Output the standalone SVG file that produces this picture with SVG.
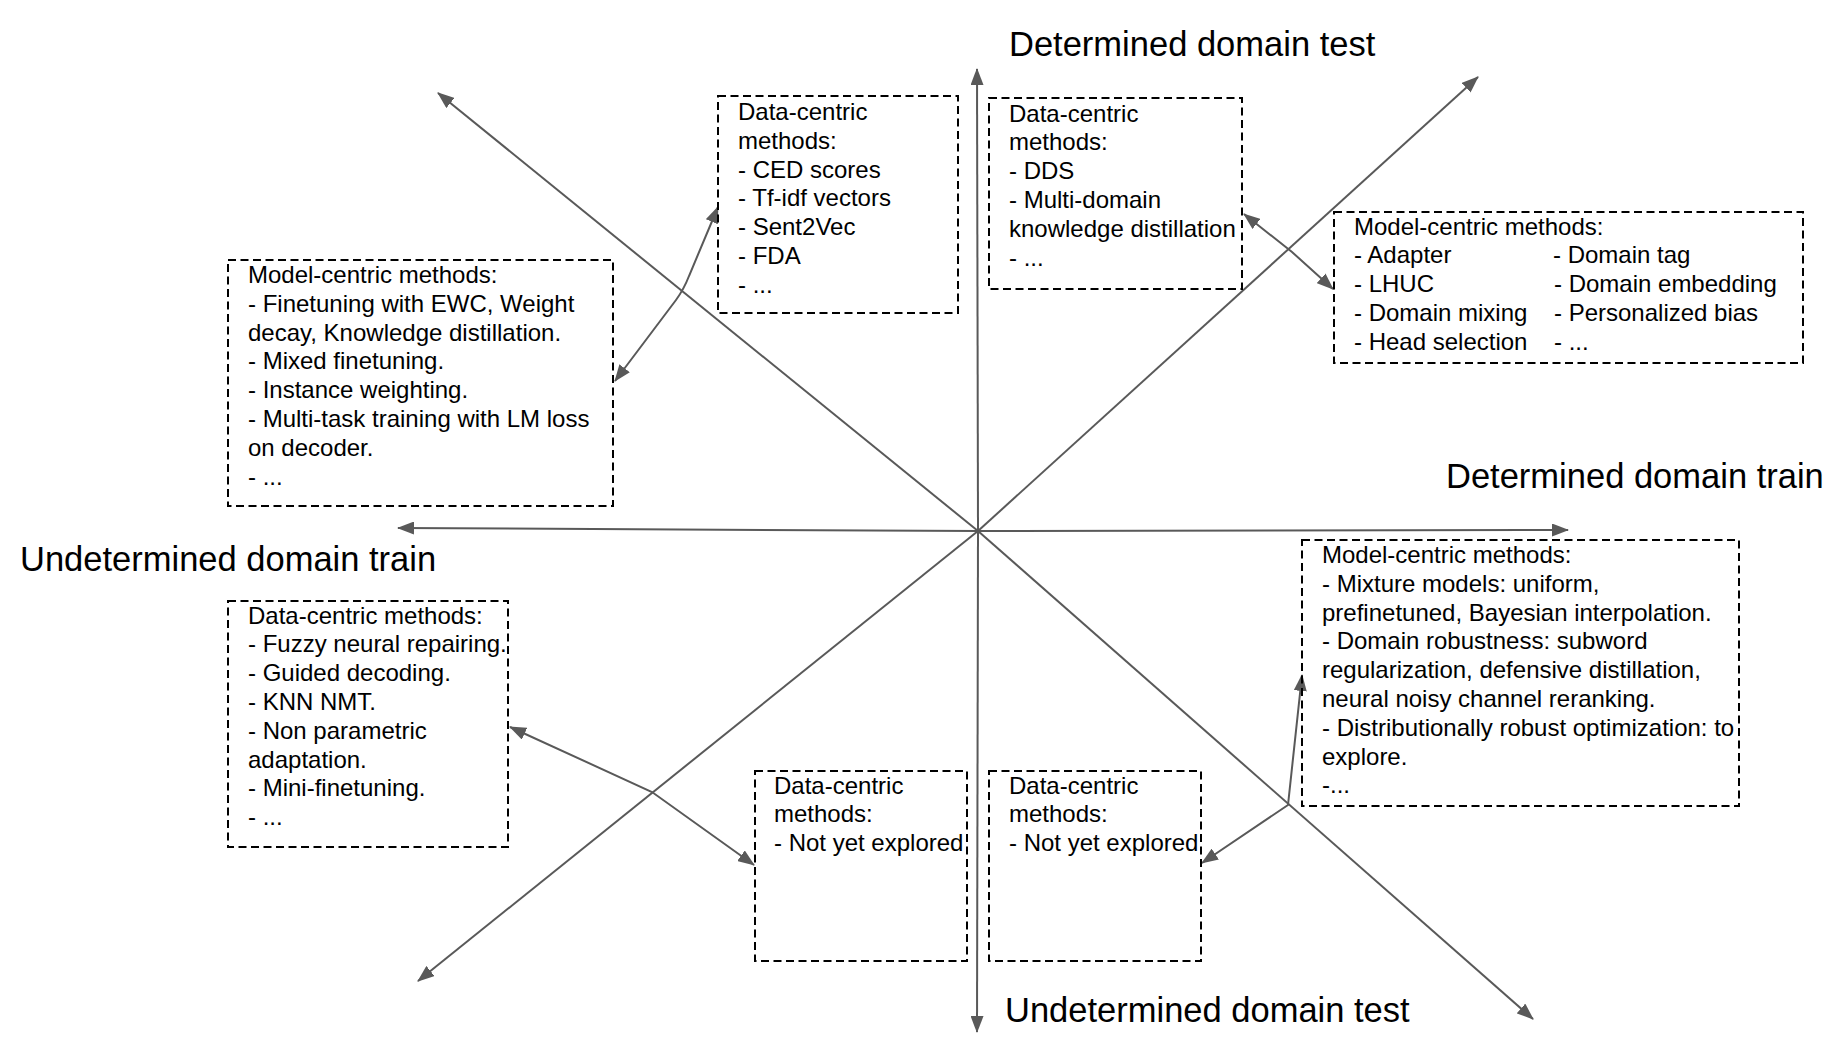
<svg xmlns="http://www.w3.org/2000/svg" width="1848" height="1049" viewBox="0 0 1848 1049">
<style>
.box{fill:none;stroke:#000;stroke-width:2;stroke-dasharray:8 4.5}
.t{font-family:"Liberation Sans",Arial,sans-serif;font-size:24px;fill:#000}
.title{font-family:"Liberation Sans",Arial,sans-serif;font-size:34.5px;fill:#000}
.ax{fill:none;stroke:#595959;stroke-width:2}
</style>
<defs>
<marker id="ah" viewBox="0 0 17 13" refX="16" refY="6.5" markerWidth="17" markerHeight="13" markerUnits="userSpaceOnUse" orient="auto-start-reverse">
<path d="M0,0 L17,6.5 L0,13 z" fill="#595959"/>
</marker>
</defs>
<rect width="1848" height="1049" fill="#fff"/>
<g id="connectors">
<line class="ax" x1="978" y1="531" x2="977" y2="69" marker-end="url(#ah)"/>
<line class="ax" x1="978" y1="531" x2="977" y2="1032" marker-end="url(#ah)"/>
<line class="ax" x1="978" y1="531" x2="398" y2="528" marker-end="url(#ah)"/>
<line class="ax" x1="978" y1="531" x2="1568" y2="530" marker-end="url(#ah)"/>
<line class="ax" x1="978" y1="531" x2="438" y2="93" marker-end="url(#ah)"/>
<line class="ax" x1="978" y1="531" x2="1478" y2="77" marker-end="url(#ah)"/>
<line class="ax" x1="978" y1="531" x2="418" y2="981" marker-end="url(#ah)"/>
<line class="ax" x1="978" y1="531" x2="1533" y2="1019" marker-end="url(#ah)"/>
<path class="ax" d="M615,381 L676,300 Q684,289 689,276 L718,207" marker-start="url(#ah)" marker-end="url(#ah)"/>
<path class="ax" d="M1244,214 L1292,252 L1333,289" marker-start="url(#ah)" marker-end="url(#ah)"/>
<path class="ax" d="M510,727 L652,792 L754,865" marker-start="url(#ah)" marker-end="url(#ah)"/>
<path class="ax" d="M1302,675 L1288,805 L1202,863" marker-start="url(#ah)" marker-end="url(#ah)"/>
</g>
<g id="axis-labels">
<text class="title" x="1009" y="56">Determined domain test</text>
<text class="title" x="1446" y="488">Determined domain train</text>
<text class="title" x="20" y="571">Undetermined domain train</text>
<text class="title" x="1005" y="1022">Undetermined domain test</text>
</g>
<g id="box-data-ced">
<rect class="box" x="718" y="96" width="240" height="217"/>
<text class="t" x="738" y="120"><tspan x="738">Data-centric</tspan><tspan x="738" dy="28.8">methods:</tspan><tspan x="738" dy="28.8">- CED scores</tspan><tspan x="738" dy="28.8">- Tf-idf vectors</tspan><tspan x="738" dy="28.8">- Sent2Vec</tspan><tspan x="738" dy="28.8">- FDA</tspan><tspan x="738" dy="28.8">- ...</tspan></text>
</g>
<g id="box-data-dds">
<rect class="box" x="989" y="98" width="253" height="191"/>
<text class="t" x="1009" y="121.5"><tspan x="1009">Data-centric</tspan><tspan x="1009" dy="28.8">methods:</tspan><tspan x="1009" dy="28.8">- DDS</tspan><tspan x="1009" dy="28.8">- Multi-domain</tspan><tspan x="1009" dy="28.8">knowledge distillation</tspan><tspan x="1009" dy="28.8">- ...</tspan></text>
</g>
<g id="box-model-det">
<rect class="box" x="1334" y="212" width="469" height="151"/>
<text class="t" x="1354" y="234.5"><tspan x="1354">Model-centric methods:</tspan><tspan x="1354" dy="28.8">- Adapter</tspan><tspan x="1354" dy="28.8">- LHUC</tspan><tspan x="1354" dy="28.8">- Domain mixing</tspan><tspan x="1354" dy="28.8">- Head selection</tspan></text>
<text class="t" x="1553" y="263.3"><tspan x="1553">- Domain tag</tspan><tspan x="1554" dy="28.8">- Domain embedding</tspan><tspan x="1554" dy="28.8">- Personalized bias</tspan><tspan x="1554" dy="28.8">- ...</tspan></text>
</g>
<g id="box-model-ul">
<rect class="box" x="228" y="260" width="385" height="246"/>
<text class="t" x="248" y="283"><tspan x="248">Model-centric methods:</tspan><tspan x="248" dy="28.8">- Finetuning with EWC, Weight</tspan><tspan x="248" dy="28.8">decay, Knowledge distillation.</tspan><tspan x="248" dy="28.8">- Mixed finetuning.</tspan><tspan x="248" dy="28.8">- Instance weighting.</tspan><tspan x="248" dy="28.8">- Multi-task training with LM loss</tspan><tspan x="248" dy="28.8">on decoder.</tspan><tspan x="248" dy="28.8">- ...</tspan></text>
</g>
<g id="box-data-ll">
<rect class="box" x="228" y="601" width="280" height="246"/>
<text class="t" x="248" y="623.5"><tspan x="248">Data-centric methods:</tspan><tspan x="248" dy="28.8">- Fuzzy neural repairing.</tspan><tspan x="248" dy="28.8">- Guided decoding.</tspan><tspan x="248" dy="28.8">- KNN NMT.</tspan><tspan x="248" dy="28.8">- Non parametric</tspan><tspan x="248" dy="28.8">adaptation.</tspan><tspan x="248" dy="28.8">- Mini-finetuning.</tspan><tspan x="248" dy="28.8">- ...</tspan></text>
</g>
<g id="box-model-lr">
<rect class="box" x="1302" y="540" width="437" height="266"/>
<text class="t" x="1322" y="563"><tspan x="1322">Model-centric methods:</tspan><tspan x="1322" dy="28.8">- Mixture models: uniform,</tspan><tspan x="1322" dy="28.8">prefinetuned, Bayesian interpolation.</tspan><tspan x="1322" dy="28.8">- Domain robustness: subword</tspan><tspan x="1322" dy="28.8">regularization, defensive distillation,</tspan><tspan x="1322" dy="28.8">neural noisy channel reranking.</tspan><tspan x="1322" dy="28.8">- Distributionally robust optimization: to</tspan><tspan x="1322" dy="28.8">explore.</tspan><tspan x="1322" dy="28.8">-...</tspan></text>
</g>
<g id="box-data-bl">
<rect class="box" x="755" y="771" width="212" height="190"/>
<text class="t" x="774" y="793.5"><tspan x="774">Data-centric</tspan><tspan x="774" dy="28.8">methods:</tspan><tspan x="774" dy="28.8">- Not yet explored</tspan></text>
</g>
<g id="box-data-br">
<rect class="box" x="989" y="771" width="212" height="190"/>
<text class="t" x="1009" y="793.5"><tspan x="1009">Data-centric</tspan><tspan x="1009" dy="28.8">methods:</tspan><tspan x="1009" dy="28.8">- Not yet explored</tspan></text>
</g>
</svg>
